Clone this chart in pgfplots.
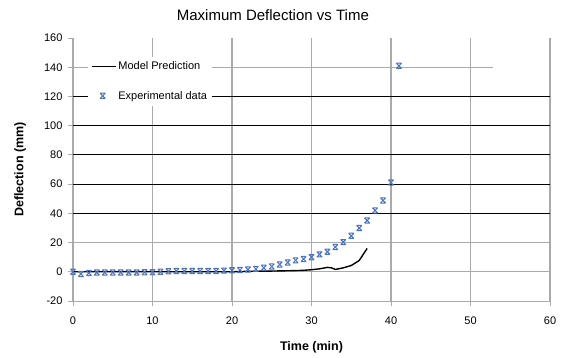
\documentclass[border=0pt]{standalone}
\usepackage{pgfplots}
\pgfplotsset{compat=1.18}
\usepackage{fontspec}
\setmainfont{Liberation Sans}
\definecolor{expblue}{RGB}{74,114,196}
\definecolor{gridgray}{RGB}{170,170,170}
\pgfdeclareplotmark{hglass}{%
  \pgfpathmoveto{\pgfqpoint{-\pgfplotmarksize}{-\pgfplotmarksize}}%
  \pgfpathlineto{\pgfqpoint{\pgfplotmarksize}{\pgfplotmarksize}}%
  \pgfpathmoveto{\pgfqpoint{-\pgfplotmarksize}{\pgfplotmarksize}}%
  \pgfpathlineto{\pgfqpoint{\pgfplotmarksize}{-\pgfplotmarksize}}%
  \pgfpathmoveto{\pgfqpoint{-\pgfplotmarksize}{\pgfplotmarksize}}%
  \pgfpathlineto{\pgfqpoint{\pgfplotmarksize}{\pgfplotmarksize}}%
  \pgfpathmoveto{\pgfqpoint{-\pgfplotmarksize}{-\pgfplotmarksize}}%
  \pgfpathlineto{\pgfqpoint{\pgfplotmarksize}{-\pgfplotmarksize}}%
  \pgfusepathqstroke}
\pgfplotsset{
  modelleg/.style={legend image code/.code={\draw[##1] (0pt,0pt) -- (24pt,0pt);}},
  expleg/.style={legend image code/.code={\draw[##1, only marks] plot coordinates {(11pt,0pt)}; \path[draw=none,fill=none] (0pt,0pt) (24pt,0pt);}},
}
\begin{document}
\begin{tikzpicture}
\begin{axis}[
  name=ax,
  width=477pt, height=263pt, scale only axis,
  xmin=0, xmax=60, ymin=-20, ymax=160,
  xtick={0,10,...,60}, ytick={-20,0,...,160},
  axis x line=bottom, axis y line=left,
  axis line style={-, draw=gridgray, line width=1pt},
  tick style={draw=gridgray, line width=0.8pt},
  tick align=outside, major tick length=5pt,
  xmajorgrids=true,
  major grid style={draw=gridgray, line width=1.6pt},
  /pgf/number format/assume math mode=true,
  ticklabel style={font=\fontsize{11}{13}\selectfont},
  xticklabel style={yshift=-7pt},
  yticklabel style={xshift=-2pt},
  title={Maximum Deflection vs Time},
  title style={at={(axis description cs:0.419,1.065)}, anchor=center, font=\fontsize{15}{18}\selectfont},
  xlabel={Time (min)},
  xlabel style={at={(axis description cs:0.5,-0.175)}, anchor=center, font=\fontsize{12.5}{15}\selectfont\bfseries},
  ylabel={Deflection (mm)},
  ylabel style={at={(axis description cs:-0.111,0.5)}, anchor=center, font=\fontsize{12.5}{15}\selectfont\bfseries},
  legend style={at={(axis description cs:0.031,0.93)}, anchor=north west, draw=none, fill=white,
    font=\fontsize{11}{13}\selectfont, row sep=16pt, inner sep=3pt},
  legend cell align=left,
]
% horizontal gridlines
\addplot[forget plot, draw=gridgray, line width=0.8pt] coordinates {(0,0) (60,0)};
\addplot[forget plot, draw=gridgray, line width=0.8pt] coordinates {(0,20) (60,20)};
\addplot[forget plot, draw=black, line width=0.9pt] coordinates {(0,40) (60,40)};
\addplot[forget plot, draw=black, line width=0.9pt] coordinates {(0,60) (60,60)};
\addplot[forget plot, draw=black, line width=0.9pt] coordinates {(0,80) (60,80)};
\addplot[forget plot, draw=black, line width=0.9pt] coordinates {(0,100) (60,100)};
\addplot[forget plot, draw=black, line width=0.9pt] coordinates {(0,120) (60,120)};
\addplot[forget plot, draw=gridgray, line width=0.8pt] coordinates {(0,140) (52.8,140)};
% model prediction
\addplot[black, line width=1.4pt, mark=none, modelleg] coordinates {
(0,0) (5,0) (10,0) (15,0) (20,0) (22,0.3) (25,0.5) (28,0.8) (29,1.0) (30,1.4)
(31,2.0) (32,3.0) (32.5,2.7) (33,1.6) (34,2.7) (35,4.3) (36,7.7) (37,16)
};
\addlegendentry{Model Prediction}
% experimental data
\addplot[only marks, mark=hglass, mark size=2.6pt, draw=expblue, line width=1pt, expleg] coordinates {
(0,0) (1,-1.5) (2,-0.8) (3,-0.5) (4,-0.5) (5,-0.5) (6,-0.5) (7,-0.5) (8,-0.5) (9,-0.3)
(10,-0.3) (11,0) (12,0.3) (13,0.5) (14,0.5) (15,0.5) (16,0.5) (17,0.5) (18,0.5) (19,0.8)
(20,1.0) (21,1.2) (22,1.5) (23,2.0) (24,2.7) (25,3.6) (26,5.0) (27,6.4) (28,7.8) (29,8.7)
(30,10.0) (31,11.9) (32,13.7) (33,16.9) (34,20.3) (35,24.6) (36,29.9) (37,35.1) (38,42.0)
(39,48.8) (40,61.1) (41,141)
};
\addlegendentry{Experimental data}
\end{axis}
\pgfresetboundingbox
\path ([shift={(-73pt,-57pt)}]ax.south west) rectangle ([shift={(14pt,38pt)}]ax.north east);
\end{tikzpicture}
\end{document}
